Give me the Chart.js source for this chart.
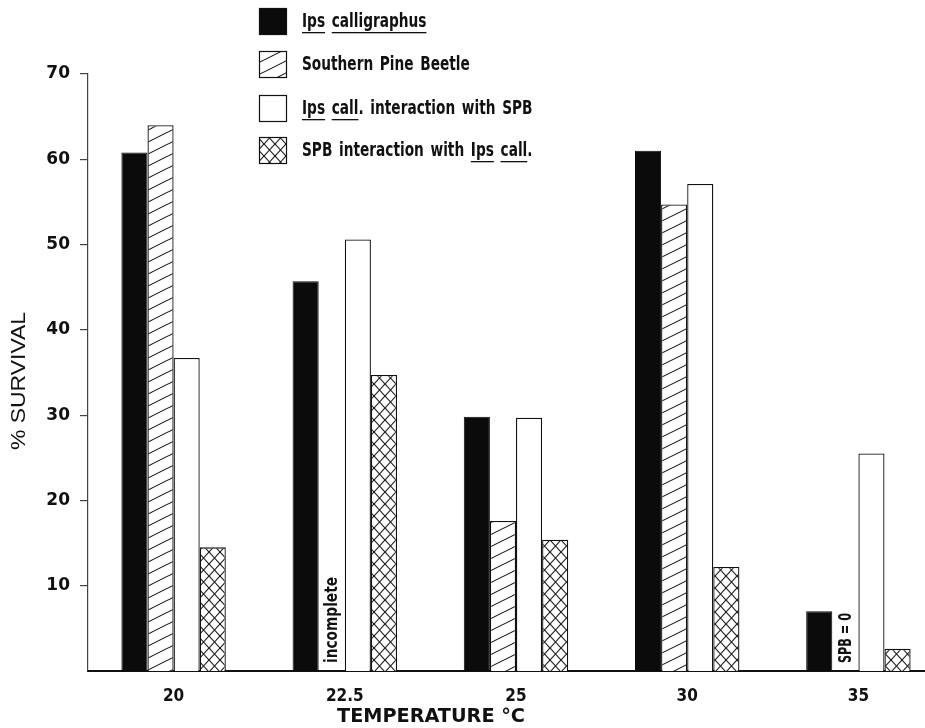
<!DOCTYPE html>
<html>
<head>
<meta charset="utf-8">
<script src="https://cdn.jsdelivr.net/npm/chart.js@4"></script>
<style>
  body { margin: 0; background: #fff; }
  #wrap { width: 925px; height: 728px; overflow: hidden; }
  canvas { display: block; }
</style>
</head>
<body>
<div id="wrap"><canvas id="survivalChart" width="950" height="728"></canvas></div>
<script>
// data
const temperatures = ['20', '22.5', '25', '30', '35'];
const ipsCalligraphus = [60.8, 45.7, 29.8, 61.0, 7.0];
const southernPineBeetle = [64.0, null, 17.6, 54.7, 0];
const ipsWithSpb = [36.7, 50.6, 29.7, 57.1, 25.5];
const spbWithIps = [14.5, 34.7, 15.4, 12.2, 2.6];
const yTicks = [10, 20, 30, 40, 50, 60, 70];
const seriesNames = ['Ips calligraphus', 'Southern Pine Beetle', 'Ips call. interaction with SPB', 'SPB interaction with Ips call.'];
const barNotes = [
    { dataset: 1, index: 1, text: 'incomplete' },
    { dataset: 1, index: 4, text: 'SPB = 0' }
];

const condensed = '"DejaVu Sans Condensed", "Liberation Sans Narrow", sans-serif';

// small tiles for the hatched fills
function hatch(w, h, lines) {
    const c = document.createElement('canvas');
    c.width = w; c.height = h;
    const g = c.getContext('2d');
    g.fillStyle = '#fff';
    g.fillRect(0, 0, w, h);
    g.strokeStyle = '#1a1a1a';
    g.lineWidth = 1.1;
    lines.forEach(l => {
        g.beginPath();
        g.moveTo(l[0], l[1]);
        g.lineTo(l[2], l[3]);
        g.stroke();
    });
    return g.createPattern(c, 'repeat');
}
const diagonalFill = hatch(24, 12, [[-24, 24, 48, -12], [-24, 12, 48, -24], [-24, 36, 48, 0]]);
const crossFill = hatch(11, 12, [
    [-11, 24, 22, -12], [-11, 12, 22, -24], [-11, 36, 22, 0],
    [-11, -12, 22, 24], [-11, -24, 22, 12], [-11, 0, 22, 36]
]);

// draws text squeezed horizontally to a given width
function squeezed(ctx, text, x, y, font, width, align) {
    ctx.save();
    ctx.font = font;
    const sx = width / ctx.measureText(text).width;
    ctx.translate(x, y);
    ctx.scale(sx, 1);
    ctx.textAlign = align || 'center';
    ctx.fillText(text, 0, 0);
    ctx.restore();
}

const underlined = ['Ips', 'calligraphus', 'call'];

const extras = {
    id: 'extras',
    afterDraw(chart) {
        const ctx = chart.ctx;
        ctx.save();
        ctx.fillStyle = '#111';
        ctx.strokeStyle = '#111';
        ctx.textBaseline = 'middle';

        // legend
        const legendFont = 'bold 19px ' + condensed;
        ctx.font = legendFont;
        const sx = 164 / ctx.measureText('Southern Pine Beetle').width;
        const tops = [8, 51, 95, 137];
        chart.data.datasets.forEach((ds, i) => {
            const top = tops[i];
            ctx.fillStyle = ds.backgroundColor;
            ctx.fillRect(259, top, 27, 26);
            ctx.lineWidth = 1.2;
            ctx.strokeStyle = '#111';
            ctx.strokeRect(259.5, top + 0.5, 27, 26);
            ctx.fillStyle = '#111';
            ctx.save();
            ctx.translate(302, top + 14);
            ctx.scale(sx, 1);
            ctx.font = legendFont;
            ctx.textAlign = 'left';
            let cx = 0;
            const space = ctx.measureText(' ').width * 1.4;
            ds.label.split(' ').forEach(word => {
                ctx.fillText(word, cx, 0);
                const bare = word.replace(/\.$/, '');
                const ww = ctx.measureText(word).width;
                if (underlined.includes(bare)) {
                    const uw = ctx.measureText(bare).width;
                    ctx.fillRect(cx, 10, uw, 1.3);
                }
                cx += ww + space;
            });
            ctx.restore();
        });

        // notes inside empty bar slots
        barNotes.forEach(n => {
            const el = chart.getDatasetMeta(n.dataset).data[n.index];
            let x = el ? el.x : NaN;
            if (!isFinite(x)) {
                x = chart.scales.x.getPixelForValue(n.index);
            }
            ctx.save();
            ctx.translate(x + 1, 663);
            ctx.rotate(-Math.PI / 2);
            squeezed(ctx, n.text, 0, 0, 'bold 18px ' + condensed, n.text === 'incomplete' ? 86 : 50, 'left');
            ctx.restore();
        });

        // axis titles
        squeezed(ctx, 'TEMPERATURE °C', 431, 717, 'bold 20px ' + condensed, 188, 'center');
        ctx.save();
        ctx.translate(19, 381);
        ctx.rotate(-Math.PI / 2);
        squeezed(ctx, '% SURVIVAL', 0, 0, '21px "Liberation Sans", Arial, sans-serif', 138, 'center');
        ctx.restore();

        ctx.restore();
    }
};

const ctxSurvival = document.getElementById('survivalChart').getContext('2d');
const survivalChart = new Chart(ctxSurvival, {
    type: 'bar',
    data: {
        labels: temperatures,
        datasets: [
            { label: seriesNames[0], data: ipsCalligraphus, backgroundColor: '#0b0b0b', borderColor: '#0b0b0b', borderWidth: 1 },
            { label: seriesNames[1], data: southernPineBeetle, backgroundColor: diagonalFill, borderColor: '#111', borderWidth: 1.3 },
            { label: seriesNames[2], data: ipsWithSpb, backgroundColor: '#ffffff', borderColor: '#111', borderWidth: 1.3 },
            { label: seriesNames[3], data: spbWithIps, backgroundColor: crossFill, borderColor: '#111', borderWidth: 1.3 }
        ]
    },
    options: {
        responsive: false,
        animation: false,
        devicePixelRatio: 1,
        categoryPercentage: 0.61,
        barPercentage: 1.0,
        layout: { padding: { top: 74, right: 6, left: 0, bottom: 0 } },
        plugins: {
            legend: { display: false },
            tooltip: { enabled: false }
        },
        scales: {
            x: {
                grid: { display: false },
                border: { display: true, color: '#111', width: 2 },
                ticks: { color: '#111', padding: 7, font: { family: condensed, weight: 'bold', size: 17 } },
                afterFit(scale) { scale.height = 57; }
            },
            y: {
                min: 0,
                max: 70,
                afterBuildTicks(scale) { scale.ticks = yTicks.map(v => ({ value: v })); },
                grid: { drawOnChartArea: false, drawTicks: true, tickLength: 8, color: '#444', lineWidth: 1.2 },
                border: { display: true, color: '#444', width: 1.2 },
                ticks: { color: '#111', padding: 10, font: { family: '"DejaVu Sans", sans-serif', weight: 'bold', size: 17 } },
                afterFit(scale) { scale.width = 88; }
            }
        }
    },
    plugins: [extras]
});
</script>
</body>
</html>
